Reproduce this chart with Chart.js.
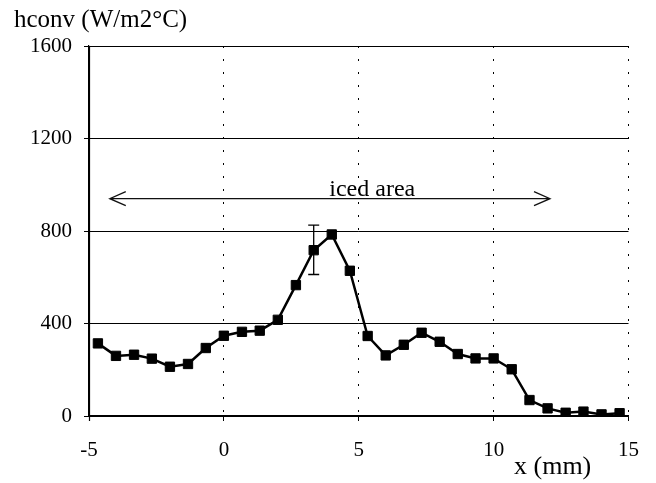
<!DOCTYPE html>
<html><head><meta charset="utf-8">
<script src="https://cdn.jsdelivr.net/npm/chart.js@4"></script>
<style>html,body{margin:0;padding:0;background:#fff}#wrap{width:656px;height:483px}</style>
</head><body><div id="wrap"><canvas id="c" width="656" height="483"></canvas></div>
<script>
// ---- data ----
const xPositions = [-4.67, -4.0, -3.33, -2.67, -2.0, -1.33, -0.67, 0.0, 0.67, 1.33, 2.0, 2.67, 3.33, 4.0, 4.67,
                    5.33, 6.0, 6.67, 7.33, 8.0, 8.67, 9.33, 10.0, 10.67, 11.33, 12.0, 12.67, 13.33, 14.0, 14.67];
const hconvValues = [314, 260, 265, 248, 213, 225, 294, 347, 364, 369, 416, 566, 717, 785, 628,
                     346, 262, 308, 360, 321, 268, 249, 249, 202, 69, 33, 14, 19, 7, 12];
const errorX = [3.33];
const errorLow = [612];
const errorHigh = [825];
const xTicks = [-5, 0, 5, 10, 15];
const yTicks = [0, 400, 800, 1200, 1600];
const arrowRange = [-4.23, 12.09];
const arrowLevel = [940];
const arrowLabel = 'iced area';
const arrowLabelX = [5.5];
const yTitle = 'hconv (W/m2°C)';
const xTitle = 'x (mm)';

const FONT = "'Liberation Serif', 'Times New Roman', serif";

const overlay = {
  id: 'overlay',
  beforeDatasetsDraw(chart) {
    const {ctx, chartArea: ca, scales: {x, y}} = chart;
    ctx.save();
    ctx.strokeStyle = '#000';
    // solid left axis line
    ctx.lineWidth = 1.2;
    ctx.beginPath();
    ctx.moveTo(Math.round(ca.left) + 0.5, ca.top);
    ctx.lineTo(Math.round(ca.left) + 0.5, ca.bottom + 5);
    ctx.stroke();
    // error bars
    ctx.lineWidth = 1.3;
    errorX.forEach((v, i) => {
      const px = x.getPixelForValue(v);
      const top = y.getPixelForValue(errorHigh[i]);
      const bot = y.getPixelForValue(errorLow[i]);
      ctx.beginPath();
      ctx.moveTo(px, top); ctx.lineTo(px, bot);
      ctx.moveTo(px - 5.5, top); ctx.lineTo(px + 5.5, top);
      ctx.moveTo(px - 5.5, bot); ctx.lineTo(px + 5.5, bot);
      ctx.stroke();
    });
    ctx.restore();
  },
  afterDraw(chart) {
    const {ctx, scales: {x, y}} = chart;
    ctx.save();
    // double arrow
    const x1 = x.getPixelForValue(arrowRange[0]);
    const x2 = x.getPixelForValue(arrowRange[1]);
    const ay = y.getPixelForValue(arrowLevel[0]);
    ctx.strokeStyle = '#111';
    ctx.lineWidth = 1.3;
    ctx.beginPath();
    ctx.moveTo(x1, ay); ctx.lineTo(x2, ay);
    ctx.moveTo(x1 + 16, ay - 7); ctx.lineTo(x1, ay); ctx.lineTo(x1 + 16, ay + 7);
    ctx.moveTo(x2 - 16, ay - 7); ctx.lineTo(x2, ay); ctx.lineTo(x2 - 16, ay + 7);
    ctx.stroke();
    // texts
    ctx.fillStyle = '#000';
    ctx.font = '24px ' + FONT;
    ctx.textBaseline = 'alphabetic';
    ctx.textAlign = 'center';
    ctx.fillText(arrowLabel, x.getPixelForValue(arrowLabelX[0]), ay - 2.5);
    ctx.textAlign = 'left';
    ctx.font = '25px ' + FONT;
    ctx.fillText(yTitle, 14, 27);
    ctx.font = '26px ' + FONT;
    ctx.fillText(xTitle, 514, 474);
    ctx.restore();
  }
};

new Chart(document.getElementById('c'), {
  type: 'line',
  data: {
    datasets: [{
      data: xPositions.map((v, i) => ({x: v, y: hconvValues[i]})),
      borderColor: '#000',
      borderWidth: 2.5,
      pointStyle: 'rect',
      pointRadius: 6.6,
      pointBorderWidth: 1,
      pointBackgroundColor: '#000',
      pointBorderColor: '#000',
      tension: 0,
      fill: false
    }]
  },
  options: {
    responsive: false,
    animation: false,
    events: [],
    layout: {padding: {top: 46, right: 26, left: 0, bottom: 0}},
    plugins: {legend: {display: false}, tooltip: {enabled: false}, title: {display: false}},
    scales: {
      x: {
        type: 'linear', min: -5, max: 15,
        afterBuildTicks: s => { s.ticks = xTicks.map(v => ({value: v})); },
        afterFit: s => { s.height = 67; },
        ticks: {color: '#000', font: {family: FONT, size: 21}, padding: 17, maxRotation: 0,
                callback: v => String(v)},
        grid: {color: c => (c.tick && c.tick.value === -5) ? 'rgba(0,0,0,0)' : '#000',
               lineWidth: 1, drawTicks: true, tickLength: 5,
               tickBorderDash: [], tickColor: '#000'},
        border: {display: true, color: '#000', width: 1.2, dash: [2, 11]}
      },
      y: {
        type: 'linear', min: 0, max: 1600,
        afterBuildTicks: s => { s.ticks = yTicks.map(v => ({value: v})); },
        afterFit: s => { s.width = 89; },
        ticks: {color: '#000', font: {family: FONT, size: 21}, padding: 12,
                callback: v => String(v)},
        grid: {color: '#000', lineWidth: 1, drawTicks: true, tickLength: 5, tickColor: '#000'},
        border: {display: true, color: '#000', width: 1.2}
      }
    }
  },
  plugins: [overlay]
});
</script>
</body></html>
